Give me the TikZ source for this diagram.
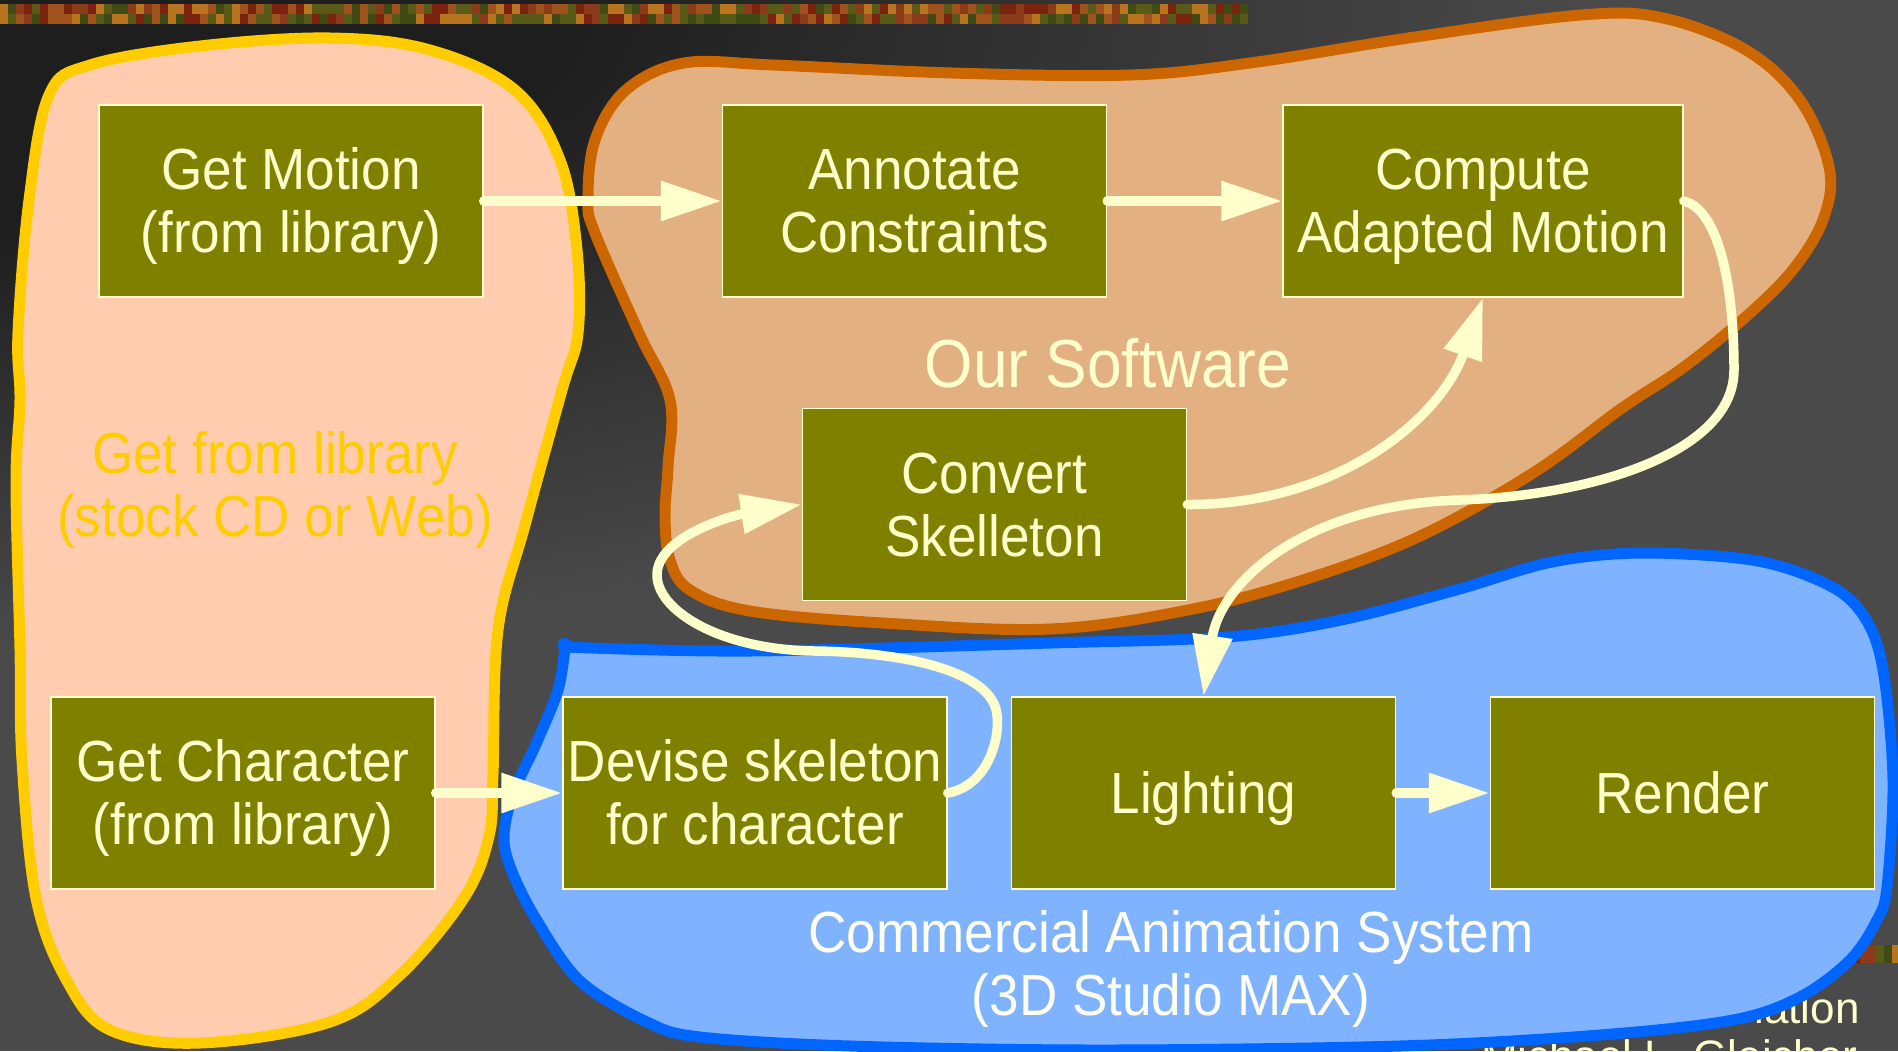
\documentclass[tikz,border=0pt]{standalone}
\usepackage{fontspec}
\setmainfont{Liberation Sans}[FakeStretch=0.915]
\newfontfamily\footfont{Liberation Sans}
\usetikzlibrary{arrows.meta}
\definecolor{bgdark}{HTML}{1E1E1E}
\definecolor{bglight}{HTML}{4A4A4A}
\definecolor{cream}{HTML}{FFFFCC}
\definecolor{whitish}{HTML}{FFFFF2}
\definecolor{boxolive}{HTML}{808000}
\definecolor{peach}{HTML}{FFCCB0}
\definecolor{gold}{HTML}{FFCC00}
\definecolor{swtan}{HTML}{E3B181}
\definecolor{rust}{HTML}{CC6600}
\definecolor{skyfill}{HTML}{80B3FF}
\definecolor{skyline}{HTML}{0066FF}
\definecolor{texa}{HTML}{A0521D}
\definecolor{texb}{HTML}{7A2410}
\definecolor{texc}{HTML}{5A5A18}
\definecolor{texd}{HTML}{B8741E}
\definecolor{texe}{HTML}{8B3A1A}
\definecolor{texf}{HTML}{3F4A14}
\pgfdeclareradialshading{bgshade}{\pgfpoint{0bp}{0bp}}{color(0bp)=(bgdark); color(8.75bp)=(bgdark); color(25bp)=(bglight); color(50bp)=(bglight)}
\newcommand\boxfont{\fontsize{29pt}{31.5pt}\selectfont}
\newcommand\bigfont{\fontsize{34pt}{38pt}\selectfont}
\newcommand\footerfont{\footfont\fontsize{22pt}{24pt}\selectfont}
\newcommand\tstrut{\rule{0pt}{27pt}}
\newcommand\bstrut{\rule[-7pt]{0pt}{7pt}}
\tikzset{
  procbox/.style={draw=cream, line width=0.75pt, fill=boxolive, text=cream,
    minimum width=192pt, minimum height=96pt, inner sep=0pt, align=center, font=\boxfont},
  flow/.style={draw=cream, line width=4.75pt, line cap=round,
    -{Triangle[length=30.5pt,width=19pt]}},
  blob/.style={line width=5.5pt, line join=round},
  grouplabel/.style={align=center, inner sep=0pt, font=\boxfont}
}
\begin{document}
\begin{tikzpicture}[x=0.5pt, y=-0.5pt]
\useasboundingbox (0,0) rectangle (1898,1051);
\begin{scope}
\clip (0,0) rectangle (1898,1051);
\fill[bglight] (0,0) rectangle (1898,1051);
\shade[shading=bgshade] (-1600,-650) rectangle (1600,650);
% textured strip at top
\pgfmathsetseed{11}
\foreach \i in {0,...,155}{
  \pgfmathrandominteger{\rca}{1}{6}
  \pgfmathrandominteger{\rcb}{1}{6}
  \ifcase\rca\or\def\cola{texa}\or\def\cola{texb}\or\def\cola{texc}\or\def\cola{texd}\or\def\cola{texe}\or\def\cola{texf}\fi
  \ifcase\rcb\or\def\colb{texa}\or\def\colb{texb}\or\def\colb{texc}\or\def\colb{texd}\or\def\colb{texe}\or\def\colb{texf}\fi
  \fill[\cola] ({\i*8},4) rectangle ({\i*8+8.3},14.2);
  \fill[\colb] ({\i*8},14) rectangle ({\i*8+8.3},24);
}
% small strip bottom right
\foreach \i in {0,...,24}{
  \pgfmathrandominteger{\rca}{1}{6}
  \ifcase\rca\or\def\cola{texa}\or\def\cola{texb}\or\def\cola{texc}\or\def\cola{texd}\or\def\cola{texe}\or\def\cola{texf}\fi
  \fill[\cola] ({1700+\i*8},945) rectangle ({1700+\i*8+8.3},963);
}
% footer text (partly hidden)
\node[anchor=base east, text=cream, font=\footerfont, inner sep=0pt] (foota) at (1860,1023) {Animation};
\node[anchor=base east, text=cream, font=\footerfont, inner sep=0pt] (footb) at (1858,1071) {Michael L. Gleicher};

% orange blob (Our Software)
\draw[blob, draw=rust, fill=swtan] plot[smooth cycle, tension=0.6] coordinates {
 (588,200) (595,140) (626,90) (684,63) (773,65) (952,73) (1130,75) (1250,63)
 (1415,37) (1581,15) (1663,18) (1746,50) (1800,100) (1829,167) (1824,217)
 (1795,267) (1750,313) (1684,367) (1622,408) (1533,473) (1418,537) (1303,580)
 (1188,610) (1050,629) (883,623) (750,611) (690,590) (670,560) (665,517)
 (668,467) (670,400) (639,333) (595,233)};
% yellow blob (library)
\draw[blob, draw=gold, fill=peach] plot[smooth cycle, tension=0.6] coordinates {
 (20,400) (18,333) (29,200) (49,95) (90,65) (200,46) (330,38) (430,50)
 (515,90) (560,160) (577,250) (578,333) (562,390) (525,525) (498,630)
 (493,774) (489,836) (464,898) (400,975) (330,1022) (200,1043) (110,1030)
 (67,981) (36,898) (22,760) (20,649) (16,483)};
% blue blob (commercial)
\draw[blob, draw=skyline, fill=skyfill] plot[smooth, tension=0.55] coordinates {
 (565,647) (750,651) (1050,643) (1227,637) (1341,620) (1456,590) (1552,562)
 (1643,553) (1758,561) (1834,588) (1868,623) (1884,676) (1893,781) (1887,887)
 (1877,920) (1850,960) (1800,997) (1733,1020) (1600,1035) (1400,1046)
 (1100,1050) (850,1046) (700,1037) (647,1022) (580,981) (536,919) (511,869)
 (504,836) (513,794) (536,744) (558,690) (565,647)} -- cycle;
\fill[skyline] (565,645) circle (3.6pt);
\end{scope}

% group labels
\node[grouplabel, text=gold] (libl) at (275,490) {Get from library\\(stock CD or Web)};
\node[grouplabel, text=cream, font=\bigfont] (oursl) at (1108,363) {Our Software};
\node[grouplabel, text=whitish] (coml) at (1171,969) {Commercial Animation System\\(3D Studio MAX)};

% boxes
\node[procbox] (gm) at (291,201) {\tstrut Get Motion\\(from library)\bstrut};
\node[procbox] (ac) at (914.5,201) {\tstrut Annotate\\Constraints\bstrut};
\node[procbox, minimum width=200pt] (cam) at (1483,201) {\tstrut Compute\\Adapted Motion\bstrut};
\node[procbox] (conv) at (994.5,504.5) {\tstrut Convert\\Skelleton\bstrut};
\node[procbox] (gc) at (243,793) {\tstrut Get Character\\(from library)\bstrut};
\node[procbox] (dev) at (755,793) {\tstrut Devise skeleton\\for character\bstrut};
\node[procbox] (light) at (1203.5,793) {\tstrut Lighting\bstrut};
\node[procbox] (render) at (1682.5,793) {\tstrut Render\bstrut};

% connectors
\draw[flow] (gm.east) -- (ac.west);
\draw[flow] (ac.east) -- (cam.west);
\draw[flow] (gc.east) -- (dev.west);
\draw[flow] (light.east) -- (render.west);
\draw[flow] (conv.east) .. controls (1336,505) and (1440,420) .. (cam.south);
\draw[flow] (cam.east) .. controls (1720,210) and (1734,290) .. (1734,370)
  .. controls (1734,450) and (1600,495) .. (1460,500)
  .. controls (1300,505) and (1220,585) .. (light.north);
\draw[flow] (dev.east) .. controls (990,785) and (1000,735) .. (997,715)
  .. controls (993,670) and (900,652) .. (815,651)
  .. controls (720,650) and (655,610) .. (657,573)
  .. controls (660,535) and (735,515) .. (conv.west);
\end{tikzpicture}
\end{document}
